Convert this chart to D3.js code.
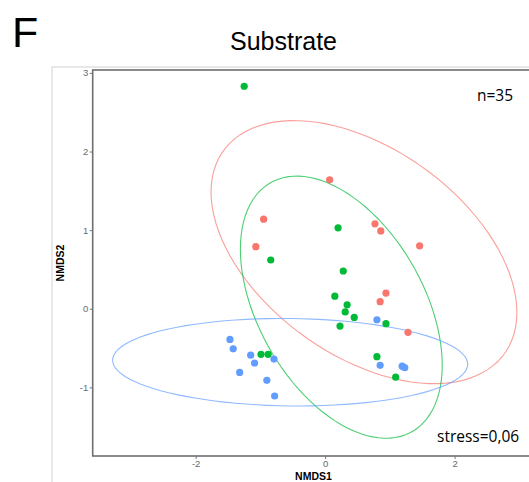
<!DOCTYPE html>
<html>
<head>
<meta charset="utf-8">
<script src="https://cdn.jsdelivr.net/npm/d3@7"></script>
<style>
  body { margin: 0; background: #fff; }
</style>
</head>
<body>
<script>
// groups (colours as in ggplot default hue palette)
var groups = ["A", "B", "C"];
var groupColors = ["#F8766D", "#00BA38", "#619CFF"];

// NMDS scores, per group
var nmds1A = [0.07, -0.95, -1.07, 0.77, 0.86, 1.46, 0.94, 0.85, 1.28];
var nmds2A = [1.64, 1.14, 0.79, 1.08, 0.99, 0.80, 0.20, 0.09, -0.30];

var nmds1B = [-1.25, 0.20, 0.28, -0.84, 0.15, 0.34, 0.31, 0.45, 0.23, 0.94, 0.80, 1.09, -0.99, -0.88];
var nmds2B = [2.83, 1.03, 0.48, 0.62, 0.16, 0.05, -0.04, -0.11, -0.22, -0.19, -0.61, -0.87, -0.58, -0.58];

var nmds1C = [-1.47, -1.42, -1.15, -1.09, -1.32, -0.79, -0.90, -0.78, 0.80, 0.85, 1.19, 1.23];
var nmds2C = [-0.39, -0.51, -0.59, -0.69, -0.81, -0.64, -0.91, -1.11, -0.14, -0.72, -0.73, -0.75];

// ellipse per group: centre and shape matrix (data units)
var ellCx  = [0.60, 0.25, -0.54];
var ellCy  = [0.72, 0.02, -0.68];
var ellSxx = [5.58, 2.43, 7.52];
var ellSxy = [-1.81, -1.15, -0.07];
var ellSyy = [2.80, 2.78, 0.31];

var xTicks = [-2, 0, 2];
var yTicks = [-1, 0, 1, 2, 3];

var W = 529, H = 482;

var svg = d3.select("body").append("svg")
    .attr("width", W)
    .attr("height", H)
    .style("font-family", "'Liberation Sans', Arial, sans-serif");

var x = d3.scaleLinear().domain([-3.59, 3.245]).range([92.7, 535.2]);
var y = d3.scaleLinear().domain([-1.873, 3.037]).range([456, 70]);

// outer light frame
svg.append("rect")
    .attr("x", 52).attr("y", 67)
    .attr("width", 600).attr("height", 600)
    .attr("fill", "none")
    .attr("stroke", "#d2d2d2")
    .attr("stroke-width", 1);

// panel frame
svg.append("rect")
    .attr("x", x.range()[0]).attr("y", y.range()[1])
    .attr("width", x.range()[1] - x.range()[0])
    .attr("height", y.range()[0] - y.range()[1])
    .attr("fill", "#fff")
    .attr("stroke", "#6e6e6e")
    .attr("stroke-width", 1.6);

// axes
var fmt = function(d) { return String(d); };
var xAxis = svg.append("g")
    .attr("transform", "translate(0," + y.range()[0] + ")")
    .call(d3.axisBottom(x).tickValues(xTicks).tickFormat(fmt).tickSize(3).tickPadding(1.5));
var yAxis = svg.append("g")
    .attr("transform", "translate(" + x.range()[0] + ",0)")
    .call(d3.axisLeft(y).tickValues(yTicks).tickFormat(fmt).tickSize(3).tickPadding(1.5));

[xAxis, yAxis].forEach(function(ax) {
    ax.select(".domain").remove();
    ax.selectAll(".tick line").attr("stroke", "#777");
    ax.selectAll(".tick text")
        .attr("fill", "#6a6a6a")
        .style("font-size", "9.5px")
        .style("font-family", "'Liberation Sans', Arial, sans-serif");
});

// ellipses
var line = d3.line().x(function(d) { return x(d[0]); }).y(function(d) { return y(d[1]); });
groups.forEach(function(g, i) {
    var l11 = Math.sqrt(ellSxx[i]);
    var l21 = ellSxy[i] / l11;
    var l22 = Math.sqrt(ellSyy[i] - l21 * l21);
    var pts = d3.range(0, 101).map(function(k) {
        var t = 2 * Math.PI * k / 100;
        var u = Math.cos(t), v = Math.sin(t);
        return [ellCx[i] + l11 * u, ellCy[i] + l21 * u + l22 * v];
    });
    svg.append("path")
        .attr("d", line(pts))
        .attr("fill", "none")
        .attr("stroke", groupColors[i])
        .attr("stroke-opacity", 0.7)
        .attr("stroke-width", 1.1);
});

// points
var xs = [nmds1A, nmds1B, nmds1C];
var ys = [nmds2A, nmds2B, nmds2C];
groups.forEach(function(g, i) {
    svg.append("g").selectAll("circle")
        .data(xs[i].map(function(v, k) { return [v, ys[i][k]]; }))
        .enter().append("circle")
        .attr("cx", function(d) { return x(d[0]); })
        .attr("cy", function(d) { return y(d[1]); })
        .attr("r", 3.6)
        .attr("fill", groupColors[i]);
});

// axis titles
svg.append("text")
    .attr("x", (x.range()[0] + x.range()[1]) / 2 - 0.5)
    .attr("y", 480)
    .attr("text-anchor", "middle")
    .style("font-size", "10.5px")
    .style("font-weight", "bold")
    .text("NMDS1");
svg.append("text")
    .attr("transform", "translate(64," + (y.range()[0] + y.range()[1]) / 2 + ") rotate(-90)")
    .attr("text-anchor", "middle")
    .style("font-size", "10.5px")
    .style("font-weight", "bold")
    .text("NMDS2");

// title and panel letter
svg.append("text")
    .attr("x", 230).attr("y", 50)
    .style("font-size", "25px")
    .text("Substrate");
svg.append("text")
    .attr("x", 12).attr("y", 47)
    .style("font-size", "43px")
    .text("F");

// annotations
svg.append("text")
    .attr("x", 477).attr("y", 101)
    .style("font-family", "'Open Sans', sans-serif")
    .style("font-size", "15.5px")
    .text("n=35");
svg.append("text")
    .attr("x", 437).attr("y", 442)
    .style("font-family", "'Open Sans', sans-serif")
    .style("font-size", "15.5px")
    .text("stress=0,06");
</script>
</body>
</html>
